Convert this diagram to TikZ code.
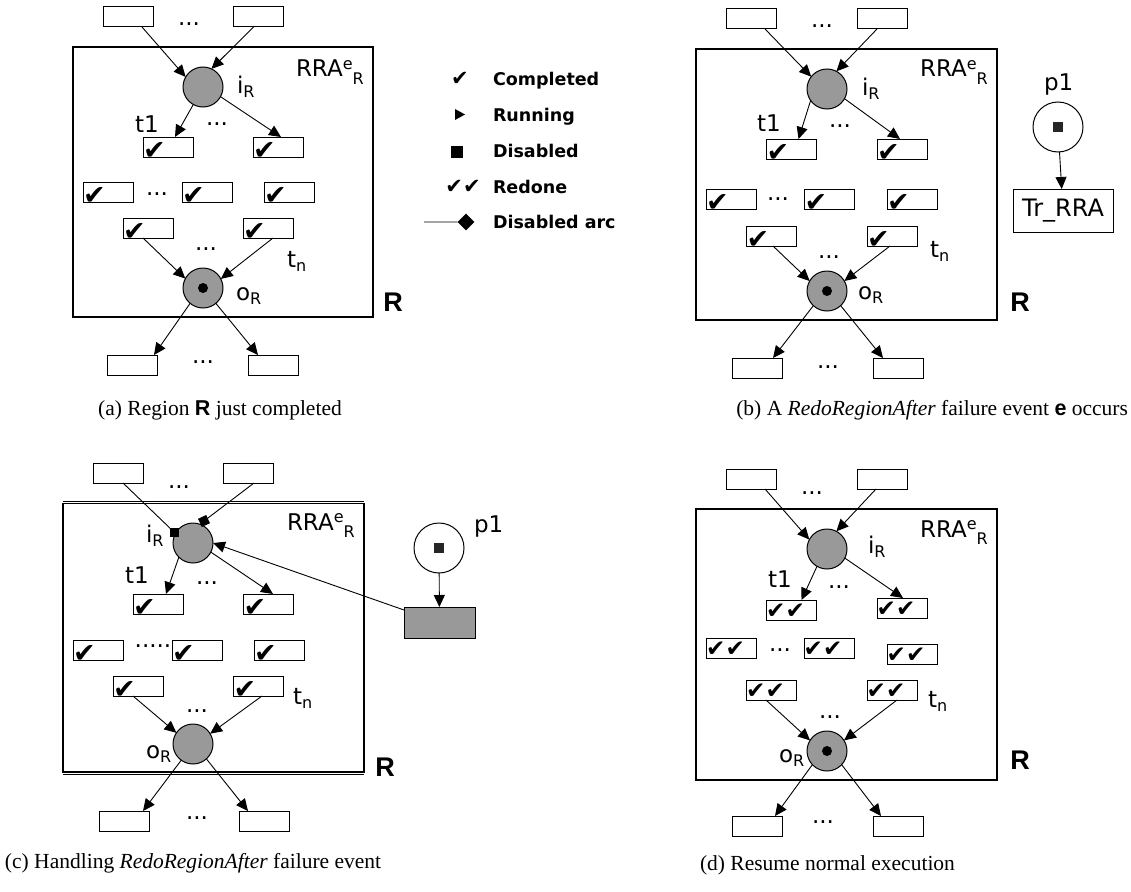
\documentclass[tikz,border=0pt]{standalone}
\usepackage{fontspec}
\setmainfont{DejaVu Sans}
\newfontfamily\capfont{Liberation Serif}
\newfontfamily\arialfont{Liberation Sans}
\usetikzlibrary{arrows.meta,calc}
\definecolor{placegray}{RGB}{153,153,153}
\newcommand\lbl[2]{#1\raisebox{-4pt}{\fontsize{16}{16}\selectfont #2}}
\newcommand\rra{RRA\raisebox{8pt}{\fontsize{16}{16}\selectfont e}\raisebox{-7pt}{\fontsize{16}{16}\selectfont R}}
\tikzset{
 every node/.style={inner sep=0pt, outer sep=0pt},
 tbox/.style={draw, line width=1pt, minimum width=50pt, minimum height=20pt, fill=white},
 plc/.style={circle, draw, line width=1pt, fill=placegray, minimum size=40pt},
 pplc/.style={circle, draw, line width=1pt, fill=white, minimum size=50pt},
 lbltext/.style={font=\fontsize{23}{27}\selectfont, anchor=base west},
 dotlab/.style={font=\fontsize{23}{27}\selectfont, anchor=base},
 chk/.style={font=\fontsize{27}{27}\selectfont},
 chktwo/.style={font=\fontsize{23}{23}\selectfont},
 parc/.style={line width=0.9pt, -{Triangle[length=12pt,width=11pt]}},
 pline/.style={line width=0.9pt},
 regbox/.style={draw, line width=1.2pt},
 bigR/.style={font=\arialfont\bfseries\fontsize{27}{27}\selectfont},
 captext/.style={font=\capfont\fontsize{21.5}{24}\selectfont, anchor=base},
 legtext/.style={font=\bfseries\fontsize{17.5}{20}\selectfont, anchor=base west},
 tokdot/.style={circle, fill=black, minimum size=10pt},
 sqtok/.style={fill=black!85, minimum size=10pt},
}
\newcommand\cbx[3]{\node[tbox] (#1) at (#2,#3) {}; \node[chk] (#1k) at ([xshift=-13.5pt,yshift=-3.5pt]#1.center) {✔};}
\newcommand\dbx[3]{\node[tbox] (#1) at (#2,#3) {}; \node[chktwo] (#1k) at ([xshift=-6pt,yshift=-1.5pt]#1.center) {✔✔};}
\newcommand\ebx[3]{\node[tbox] (#1) at (#2,#3) {};}
\begin{document}
\begin{tikzpicture}[x=1pt,y=-1pt]
\useasboundingbox (0,0) rectangle (1131,891);

% ---------------- panel (a)
\draw[regbox] (73,47) rectangle (373,317);
\ebx{a_t1}{128}{17}\ebx{a_t2}{258.5}{17}
\node[plc] (a_ci) at (203,87) {};
\cbx{a_r1a}{168}{147}\cbx{a_r1b}{278}{147}
\cbx{a_r2a}{108}{192}\cbx{a_r2b}{207}{192}\cbx{a_r2c}{289}{192}
\cbx{a_r3a}{148}{228}\cbx{a_r3b}{268}{228}
\node[plc] (a_co) at (203,288) {};
\node[tokdot] (a_tok) at (a_co) {};
\ebx{a_b1}{132}{365}\ebx{a_b2}{273}{365}
\draw[parc] ([xshift=14pt]a_t1.south) -- (a_ci.150);
\draw[parc] ([xshift=-5pt]a_t2.south) -- (a_ci.65);
\draw[parc] (a_ci.-119) -- ([xshift=7pt]a_r1a.north);
\draw[parc] (a_ci.-29) -- ([xshift=3pt]a_r1b.north);
\draw[parc] ([xshift=-5pt]a_r3a.south) -- (a_co.152);
\draw[parc] ([xshift=5pt]a_r3b.south) -- (a_co.27);
\draw[parc] (a_co.-130) -- ([xshift=22pt]a_b1.north);
\draw[parc] (a_co.-50) -- ([xshift=-15pt]a_b2.north);
\node[lbltext] (a_il) at (237,93) {\lbl{i}{R}};
\node[lbltext] (a_rra) at (296,77) {\rra};
\node[lbltext] (a_t1l) at (135,132) {t1};
\node[lbltext] (a_tnl) at (287,267) {\lbl{t}{n}};
\node[lbltext] (a_ol) at (236,300) {\lbl{o}{R}};
\node[bigR] (a_R) at (393,302) {R};
\node[dotlab] (a_d1) at (189,26) {...};
\node[dotlab] (a_d2) at (217,125) {...};
\node[dotlab] (a_d3) at (157,195) {...};
\node[dotlab] (a_d4) at (206,250) {...};
\node[dotlab] (a_d5) at (203,363) {...};
\node[captext] (capa) at (220,415) {(a) Region {\arialfont\bfseries R} just completed};

% ---------------- legend
\node[chk, font=\fontsize{21}{21}\selectfont] (lg1s) at (460,79) {✔};
\node[legtext] (lg1) at (493,85) {Completed};
\fill (455,109) -- (465,114.5) -- (455,120) -- cycle;
\node[legtext] (lg2) at (493,121) {Running};
\node[fill=black, minimum size=12pt] (lg3s) at (457,152) {};
\node[legtext] (lg3) at (493,157) {Disabled};
\node[chktwo, font=\fontsize{21}{21}\selectfont] (lg4s) at (463,187) {✔✔};
\node[legtext] (lg4) at (493,193) {Redone};
\coordinate (lg5a) at (424,222);
\node[fill=black, rotate=45, minimum size=12pt] (lg5s) at (466,222) {};
\draw[pline] (lg5a) -- (lg5s);
\node[legtext] (lg5) at (493,228) {Disabled arc};

% ---------------- panel (b)
\draw[regbox] (696,49) rectangle (997,320);
\ebx{b_t1}{751.5}{19}\ebx{b_t2}{882}{19}
\node[plc] (b_ci) at (827,89) {};
\cbx{b_r1a}{791.5}{149}\cbx{b_r1b}{902}{149}
\cbx{b_r2a}{731}{199.5}\cbx{b_r2b}{829.5}{199.5}\cbx{b_r2c}{912}{199}
\cbx{b_r3a}{771.5}{236}\cbx{b_r3b}{892}{236}
\node[plc] (b_co) at (827,291) {};
\node[tokdot] (b_tok) at (b_co) {};
\ebx{b_b1}{757}{368}\ebx{b_b2}{898}{368}
\draw[parc] ([xshift=13.5pt]b_t1.south) -- (b_ci.142);
\draw[parc] ([xshift=-5pt]b_t2.south) -- (b_ci.62);
\draw[parc] (b_ci.-145) -- ([xshift=7pt]b_r1a.north);
\draw[parc] (b_ci.-29) -- ([xshift=-2pt]b_r1b.north);
\draw[parc] ([xshift=1.5pt]b_r3a.south) -- (b_co.150);
\draw[parc] ([xshift=-2pt]b_r3b.south) -- (b_co.30);
\draw[parc] (b_co.-133) -- ([xshift=16pt]b_b1.north);
\draw[parc] (b_co.-47) -- ([xshift=-15pt]b_b2.north);
\node[lbltext] (b_il) at (862,95) {\lbl{i}{R}};
\node[lbltext] (b_rra) at (920,77) {\rra};
\node[lbltext] (b_t1l) at (757,131) {t1};
\node[lbltext] (b_tnl) at (930,257) {\lbl{t}{n}};
\node[lbltext] (b_ol) at (858,299) {\lbl{o}{R}};
\node[bigR] (b_R) at (1020,302) {R};
\node[dotlab] (b_d1) at (822,28) {...};
\node[dotlab] (b_d2) at (840,127) {...};
\node[dotlab] (b_d3) at (778,200) {...};
\node[dotlab] (b_d4) at (829,258) {...};
\node[dotlab] (b_d5) at (828,368) {...};
\node[pplc] (b_p1) at (1058,127) {};
\node[sqtok] (b_ptok) at (b_p1) {};
\node[lbltext] (b_p1l) at (1044,90) {p1};
\node[draw, line width=1pt, minimum width=100pt, minimum height=43pt, font=\fontsize{24}{28}\selectfont] (b_tr) at (1063,210.5) {Tr\_RRA};
\draw[parc] (b_p1) -- (b_tr);
\node[captext, anchor=base east] (capb) at (1128,415) {(b) A \textit{RedoRegionAfter} failure event {\arialfont\bfseries e} occurs};

% ---------------- panel (c)
\draw[regbox] (63,503.5) rectangle (364,772);
\draw[line width=0.8pt] (63,501) -- (364,501);
\draw[line width=0.8pt] (63,774.5) -- (364,774.5);
\ebx{c_t1}{118}{473}\ebx{c_t2}{248.5}{473}
\node[plc] (c_ci) at (193,543) {};
\cbx{c_r1a}{158}{604}\cbx{c_r1b}{268.5}{604}
\cbx{c_r2a}{98}{650}\cbx{c_r2b}{197}{650}\cbx{c_r2c}{279}{650}
\cbx{c_r3a}{138}{686}\cbx{c_r3b}{258.5}{686}
\node[plc] (c_co) at (193,744) {};
\ebx{c_b1}{124}{821}\ebx{c_b2}{264.5}{821}
\coordinate (c_sqL) at (174,532);
\coordinate (c_sqR) at (204,521);
\draw[pline] ([xshift=5pt]c_t1.south) -- (c_sqL);
\draw[pline] ([xshift=5.5pt]c_t2.south) -- (c_sqR);
\node[fill=black, minimum size=9pt] (c_sqLn) at (c_sqL) {};
\node[fill=black, minimum size=9pt, rotate=25] (c_sqRn) at (c_sqR) {};
\draw[parc] (c_ci.-135) -- ([xshift=8pt]c_r1a.north);
\draw[parc] (c_ci.-27) -- ([xshift=4.5pt]c_r1b.north);
\draw[parc] ([xshift=-5pt]c_r3a.south) -- (c_co.146);
\draw[parc] ([xshift=3.5pt]c_r3b.south) -- (c_co.31);
\draw[parc] (c_co.-126) -- ([xshift=19pt]c_b1.north);
\draw[parc] (c_co.-48) -- ([xshift=-16.5pt]c_b2.north);
\node[pplc] (c_p1) at (439,548) {};
\node[sqtok] (c_ptok) at (c_p1) {};
\node[lbltext] (c_p1l) at (474,532) {p1};
\node[draw, line width=1pt, fill=placegray, minimum width=71pt, minimum height=31pt] (c_tr) at (439.5,622.5) {};
\draw[parc] (c_p1) -- (c_tr);
\draw[parc] ([yshift=-3pt]c_tr.north west) -- (c_ci.east);
\node[lbltext] (c_il) at (146,542) {\lbl{i}{R}};
\node[lbltext] (c_rra) at (287,530) {\rra};
\node[lbltext] (c_t1l) at (125,583) {t1};
\node[lbltext] (c_tnl) at (293,704) {\lbl{t}{n}};
\node[lbltext] (c_ol) at (146,758) {\lbl{o}{R}};
\node[bigR] (c_R) at (385,767) {R};
\node[dotlab] (c_d1) at (179,488) {...};
\node[dotlab] (c_d2) at (207,584) {...};
\node[dotlab] (c_d3) at (153,647) {.....};
\node[dotlab] (c_d4) at (197,712) {...};
\node[dotlab] (c_d5) at (197,819) {...};
\node[captext, anchor=base west] (capc) at (5,868) {(c) Handling \textit{RedoRegionAfter} failure event};

% ---------------- panel (d)
\draw[regbox] (696,509) rectangle (997,780);
\ebx{d_t1}{751.5}{479}\ebx{d_t2}{882}{479}
\node[plc] (d_ci) at (827,549) {};
\dbx{d_r1a}{791.5}{610}\dbx{d_r1b}{902}{608}
\dbx{d_r2a}{731.5}{648}\dbx{d_r2b}{829}{648}\dbx{d_r2c}{912}{654}
\dbx{d_r3a}{771.5}{690}\dbx{d_r3b}{892}{690}
\node[plc] (d_co) at (827,751) {};
\node[tokdot] (d_tok) at (d_co) {};
\ebx{d_b1}{757}{826}\ebx{d_b2}{898}{826}
\draw[parc] ([xshift=13.5pt]d_t1.south) -- (d_ci.152);
\draw[parc] ([xshift=-6pt]d_t2.south) -- (d_ci.62);
\draw[parc] (d_ci.-120) -- ([xshift=10pt]d_r1a.north);
\draw[parc] (d_ci.-27) -- ([xshift=1pt]d_r1b.north);
\draw[parc] ([xshift=-5.5pt]d_r3a.south) -- (d_co.148);
\draw[parc] ([xshift=5pt]d_r3b.south) -- (d_co.32);
\draw[parc] (d_co.-137) -- ([xshift=18pt]d_b1.north);
\draw[parc] (d_co.-43) -- ([xshift=-17pt]d_b2.north);
\node[lbltext] (d_il) at (868,553) {\lbl{i}{R}};
\node[lbltext] (d_rra) at (920,537) {\rra};
\node[lbltext] (d_t1l) at (768,587) {t1};
\node[lbltext] (d_tnl) at (928,707) {\lbl{t}{n}};
\node[lbltext] (d_ol) at (779,762) {\lbl{o}{R}};
\node[bigR] (d_R) at (1020,760) {R};
\node[dotlab] (d_d1) at (812,494) {...};
\node[dotlab] (d_d2) at (839,588) {...};
\node[dotlab] (d_d3) at (780,651) {...};
\node[dotlab] (d_d4) at (830,718) {...};
\node[dotlab] (d_d5) at (823,823) {...};
\node[captext, anchor=base west] (capd) at (700,870) {(d) Resume normal execution};
\end{tikzpicture}
\end{document}
